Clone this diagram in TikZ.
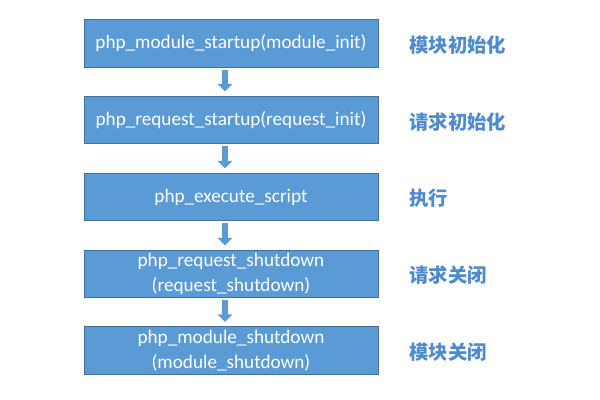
\documentclass[tikz,border=0pt]{standalone}
\usepackage{fontspec}
\setmainfont{Carlito}
\newfontfamily\cjk{Noto Sans CJK SC}
\usetikzlibrary{arrows.meta}
\definecolor{boxblue}{RGB}{91,155,213}
\definecolor{boxedge}{RGB}{65,113,156}
\definecolor{labelblue}{RGB}{79,139,204}

\tikzset{every picture/.style={line width=0.75pt}}
\tikzset{
  stagebox/.style={draw=boxedge, fill=boxblue, line width=0.6pt, minimum width=220.5pt, minimum height=35.5pt, inner sep=0pt, align=center, text=white, font=\fontsize{14.4}{18.5}\selectfont},
  stagelabel/.style={anchor=west, inner sep=0pt, text=labelblue, font=\cjk\bfseries\fontsize{14.5}{18}\selectfont},
  flowarrow/.style={draw=boxblue, line width=4.5pt, -{Triangle[width=11pt, length=5.5pt]}, shorten <=1.5pt, shorten >=3.5pt}
}

\begin{document}
\begin{tikzpicture}[x=0.75pt,y=0.75pt,yscale=-1,xscale=1]
\useasboundingbox (0,0) rectangle (600,400); %set diagram size 600 x 400

% Stage Boxes
\node [stagebox] (init) at (231,43.5) {php\_module\_startup(module\_init)};
\node [stagebox] (req) at (231,120) {php\_request\_startup(request\_init)};
\node [stagebox] (exec) at (231,197) {php\_execute\_script};
\node [stagebox] (reqdown) at (231,274) {php\_request\_shutdown\\(request\_shutdown)};
\node [stagebox] (moddown) at (231,350.5) {php\_module\_shutdown\\(module\_shutdown)};

% Arrows
\draw [flowarrow] ([xshift=-4.5pt]init.south) -- ([xshift=-4.5pt]req.north);
\draw [flowarrow] ([xshift=-4.5pt]req.south) -- ([xshift=-4.5pt]exec.north);
\draw [flowarrow] ([xshift=-4.5pt]exec.south) -- ([xshift=-4.5pt]reqdown.north);
\draw [flowarrow] ([xshift=-4.5pt]reqdown.south) -- ([xshift=-4.5pt]moddown.north);

% Text Node
\node [stagelabel] (initlbl) at (409,45) {模块初始化};
% Text Node
\node [stagelabel] (reqlbl) at (409,122) {请求初始化};
% Text Node
\node [stagelabel] (execlbl) at (409,198) {执行};
% Text Node
\node [stagelabel] (reqdownlbl) at (409,275) {请求关闭};
% Text Node
\node [stagelabel] (moddownlbl) at (409,352) {模块关闭};

\end{tikzpicture}
\end{document}
